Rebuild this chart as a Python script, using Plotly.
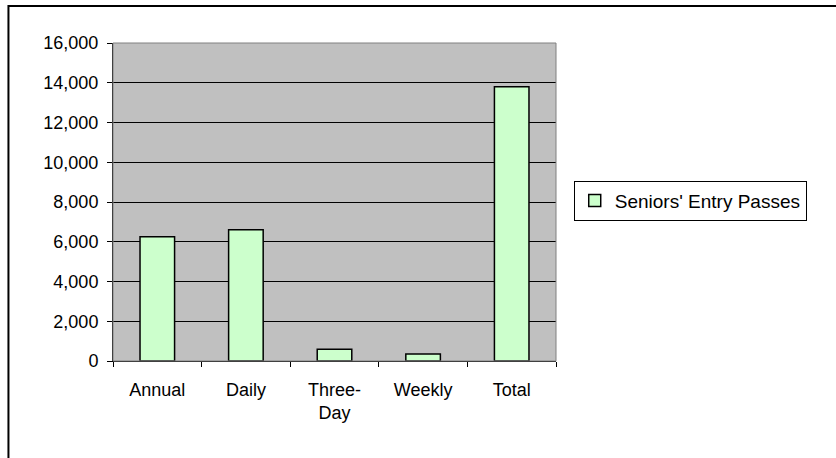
import plotly.graph_objects as go

categories = ["Annual", "Daily", "Three-<br>Day", "Weekly", "Total"]
values = [6250, 6600, 590, 350, 13800]
series_name = "Seniors' Entry Passes"
y_ticks = [0, 2000, 4000, 6000, 8000, 10000, 12000, 14000, 16000]

fig = go.Figure()
fig.add_trace(go.Bar(
    x=categories, y=values, name=series_name,
    marker=dict(color="#CCFFCC", line=dict(color="black", width=1.5)),
    showlegend=True,
))

font = dict(family="Liberation Sans, Arial, sans-serif", size=18, color="black")

fig.update_layout(
    width=836, height=458,
    margin=dict(l=113, r=280, t=43, b=97),
    paper_bgcolor="white",
    plot_bgcolor="#C0C0C0",
    font=font,
    bargap=0.61,
    showlegend=True,
    legend=dict(
        x=1.04, y=0.504, xanchor="left", yanchor="middle",
        bordercolor="black", borderwidth=1, bgcolor="white",
        font=dict(family="Liberation Sans, Arial, sans-serif", size=19, color="black"),
        itemwidth=30,
    ),
    xaxis=dict(
        showline=True, linecolor="black", linewidth=1,
        ticks="outside", ticklen=5, tickcolor="black",
        tickson="boundaries", showgrid=False,
        tickfont=font, ticklabelstandoff=12,
    ),
    yaxis=dict(
        range=[0, 16000], tickvals=y_ticks, tickformat=",",
        showline=True, linecolor="black", linewidth=1,
        ticks="outside", ticklen=5, tickcolor="black",
        showgrid=True, gridcolor="black", gridwidth=1,
        zeroline=False, tickfont=font, ticklabelstandoff=5,
    ),
    shapes=[
        dict(type="rect", xref="paper", yref="paper", x0=0, x1=1, y0=0, y1=1,
             line=dict(color="#808080", width=1), layer="above"),
        dict(type="rect", xref="paper", yref="paper", x0=-0.236, x1=1.8, y0=-0.6, y1=1.116,
             line=dict(color="black", width=2), layer="below"),
    ],
)

fig.write_html("out.html", config={"displayModeBar": False},
               post_script="document.body.style.margin='0';")
